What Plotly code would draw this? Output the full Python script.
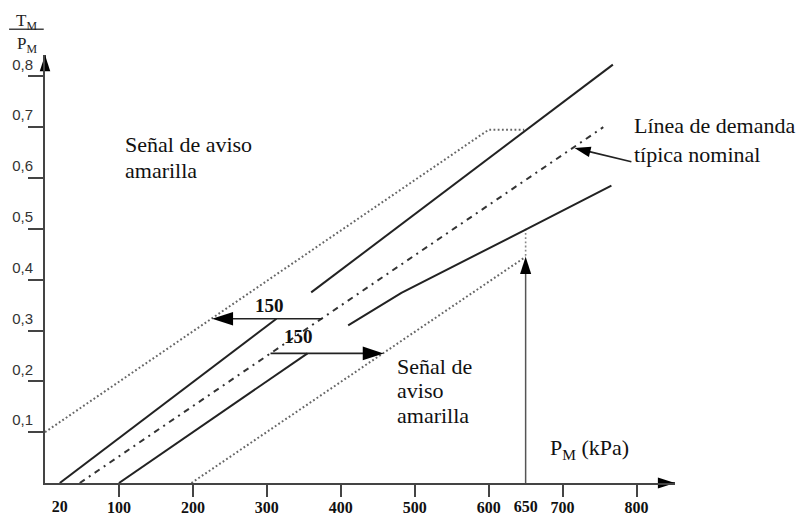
import plotly.graph_objects as go

# Presión de mando P_M (kPa) frente a la relación T_M / P_M
sup_a_p, sup_a_r = [20, 313], [0.0, 0.323]
sup_b_p, sup_b_r = [360, 768], [0.375, 0.823]
inf_a_p, inf_a_r = [100, 355], [0.0, 0.255]
inf_b_p, inf_b_r = [410, 482, 652, 766], [0.31, 0.374, 0.50, 0.585]
dem_p, dem_r = [47, 755], [0.0, 0.70]
aviso_sup_p, aviso_sup_r = [0, 600, 648], [0.10, 0.695, 0.695]
aviso_inf_p, aviso_inf_r = [198, 650], [0.0, 0.445]
tramo650_p, tramo650_r = [650, 650], [0.447, 0.50]

# Flechas
desp_sup_p, desp_sup_r = [375, 226], [0.323, 0.323]   # 150 kPa hacia la izquierda
desp_inf_p, desp_inf_r = [305, 458], [0.255, 0.255]   # 150 kPa hacia la derecha
flecha650_p, flecha650_r = [650, 650], [0.0, 0.445]
flecha_dem_p, flecha_dem_r = [793, 716], [0.632, 0.659]

# Ejes
X_MAX, Y_MAX = 852, 0.842
x_ticks = [100, 200, 300, 400, 500, 600, 700, 800]
x_ticks_extra = [20, 650]
y_ticks = [0.1, 0.2, 0.3, 0.4, 0.5, 0.6, 0.7, 0.8]
y_ticktext = ["0,1", "0,2", "0,3", "0,4", "0,5", "0,6", "0,7", "0,8"]

SERIF = "Liberation Serif, Times New Roman, serif"
SANS = "Liberation Sans, Arial, sans-serif"

fig = go.Figure()


def linea(p, r, color="#222", width=2, dash="solid"):
    fig.add_trace(go.Scatter(
        x=p, y=r, mode="lines", line=dict(color=color, width=width, dash=dash),
        hoverinfo="skip", showlegend=False, cliponaxis=False))


def flecha(p, r, color="#222", width=1.6, size=14):
    fig.add_trace(go.Scatter(
        x=p, y=r, mode="lines+markers",
        line=dict(color=color, width=width),
        marker=dict(symbol="arrow", size=size, angleref="previous", color="#000"),
        hoverinfo="skip", showlegend=False, cliponaxis=False))


DOT = "1.8px,2.4px"
linea(aviso_sup_p, aviso_sup_r, color="#666", width=2, dash=DOT)
linea(aviso_inf_p, aviso_inf_r, color="#666", width=2, dash=DOT)
linea(tramo650_p, tramo650_r, color="#888", width=1.6, dash=DOT)
linea(dem_p, dem_r, color="#333", width=2, dash="6px,5px,2px,5px")
linea(sup_a_p, sup_a_r)
linea(sup_b_p, sup_b_r)
linea(inf_a_p, inf_a_r)
linea(inf_b_p, inf_b_r)

flecha(desp_sup_p, desp_sup_r, size=22)
flecha(desp_inf_p, desp_inf_r, size=22)
flecha(flecha650_p, flecha650_r, color="#555", width=1.5, size=18)
flecha(flecha_dem_p, flecha_dem_r, color="#222", width=1.6, size=17)

# Puntas de flecha de los ejes
flecha([X_MAX - 20, X_MAX], [0, 0], color="#444", width=2, size=18)
flecha([0, 0], [Y_MAX - 0.03, Y_MAX], color="#444", width=2, size=17)

# Eje secundario para las etiquetas 20 y 650 (sin marca de división)
fig.add_trace(go.Scatter(x=[None], y=[None], xaxis="x2", showlegend=False,
                         hoverinfo="skip"))

texto = dict(font=dict(family=SERIF, size=22, color="#111"),
             showarrow=False, xanchor="left", yanchor="middle",
             xref="x", yref="y")
for t, x, y in [
    ("Señal de aviso", 106, 0.666), ("amarilla", 106, 0.615),
    ("Señal de", 474, 0.230), ("aviso", 474, 0.182), ("amarilla", 474, 0.133),
    ("Línea de demanda", 794, 0.703), ("típica nominal", 794, 0.646),
    ("P<sub>M</sub> (kPa)", 680, 0.067),
]:
    fig.add_annotation(text=t, x=x, y=y, **texto)

negrita = dict(font=dict(family=SERIF, size=19, color="#111", weight="bold"),
               showarrow=False, xref="x", yref="y")
fig.add_annotation(text="150", x=303, y=0.350, **negrita)
fig.add_annotation(text="150", x=343, y=0.289, **negrita)

# Título del eje vertical: T_M / P_M
tit = dict(font=dict(family=SERIF, size=17, color="#222"), showarrow=False,
           xref="paper", yref="paper", xanchor="center", yanchor="middle")
fig.add_annotation(text="T<sub>M</sub>", x=-0.030, y=1.078, **tit)
fig.add_annotation(text="P<sub>M</sub>", x=-0.029, y=1.024, **tit)
fig.add_shape(type="line", xref="paper", yref="paper",
              x0=-0.057, x1=-0.002, y0=1.060, y1=1.060,
              line=dict(color="#444", width=1.5))

eje_x_font = dict(family=SERIF, size=16, color="#111", weight="bold")
fig.update_layout(
    width=802, height=516, autosize=False,
    margin=dict(l=45, r=127, t=55, b=33),
    paper_bgcolor="white", plot_bgcolor="white",
    xaxis=dict(range=[0, X_MAX], showgrid=False, zeroline=False,
               showline=True, linecolor="#444", linewidth=2, automargin=False,
               ticks="outside", ticklen=12, tickwidth=1.5, tickcolor="#444",
               tickvals=x_ticks, ticklabelstandoff=-3, tickfont=eje_x_font),
    xaxis2=dict(range=[0, X_MAX], overlaying="x", side="bottom", anchor="y",
                showgrid=False, zeroline=False, showline=False, automargin=False,
                ticks="outside", ticklen=12, tickcolor="rgba(0,0,0,0)",
                tickvals=x_ticks_extra, ticklabelstandoff=-3,
                tickfont=eje_x_font),
    yaxis=dict(range=[0, Y_MAX], showgrid=False, zeroline=False,
               showline=True, linecolor="#444", linewidth=2, automargin=False,
               ticks="outside", ticklen=15, tickwidth=2, tickcolor="#444",
               tickvals=y_ticks, ticktext=y_ticktext,
               ticklabelshift=-12, ticklabelstandoff=-8,
               tickfont=dict(family=SANS, size=15, color="#333")),
)

fig.write_html("out.html")
